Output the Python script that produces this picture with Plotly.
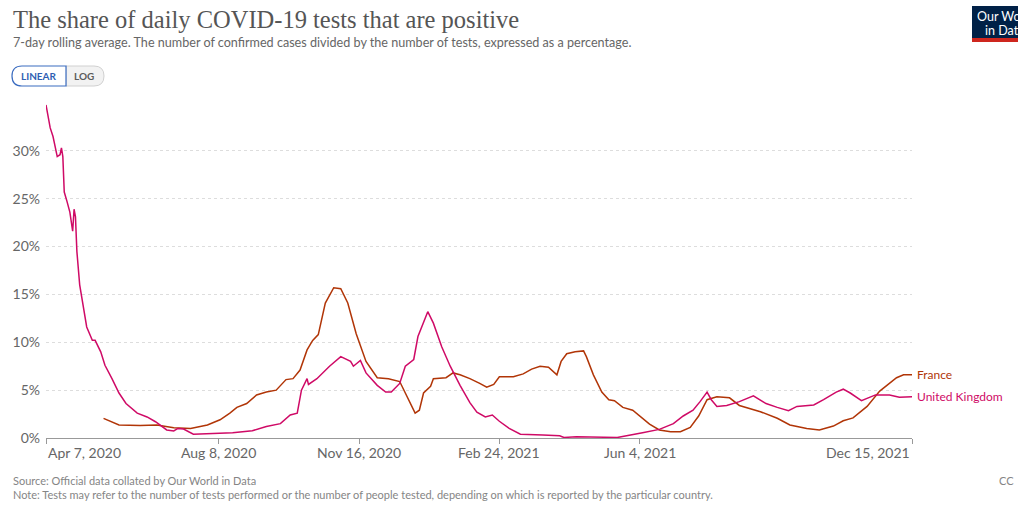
import plotly.graph_objects as go

# ---------------- data ----------------
uk_dates = ["2020-04-07", "2020-04-09", "2020-04-10", "2020-04-12", "2020-04-15", "2020-04-17", "2020-04-18",
            "2020-04-19", "2020-04-20", "2020-04-22", "2020-04-24", "2020-04-26", "2020-04-27", "2020-04-28",
            "2020-04-29", "2020-05-01", "2020-05-04", "2020-05-06", "2020-05-10", "2020-05-12", "2020-05-16",
            "2020-05-19", "2020-05-24", "2020-05-29", "2020-06-03", "2020-06-11", "2020-06-18", "2020-06-24",
            "2020-07-02", "2020-07-07", "2020-07-10", "2020-07-14", "2020-07-21", "2020-08-04", "2020-08-18",
            "2020-09-01", "2020-09-11", "2020-09-21", "2020-09-28", "2020-10-03", "2020-10-06", "2020-10-10",
            "2020-10-11", "2020-10-17", "2020-10-26", "2020-11-03", "2020-11-10", "2020-11-12", "2020-11-17",
            "2020-11-21", "2020-11-29", "2020-12-05", "2020-12-09", "2020-12-15", "2020-12-19", "2020-12-25",
            "2020-12-28", "2021-01-04", "2021-01-08", "2021-01-14", "2021-01-20", "2021-01-27", "2021-02-03",
            "2021-02-08", "2021-02-14", "2021-02-19", "2021-02-24", "2021-03-03", "2021-03-11", "2021-03-27",
            "2021-04-08", "2021-04-11", "2021-04-20", "2021-05-19", "2021-05-30", "2021-06-06", "2021-06-18",
            "2021-06-28", "2021-07-05", "2021-07-12", "2021-07-17", "2021-07-22", "2021-07-25", "2021-07-29",
            "2021-08-05", "2021-08-14", "2021-08-24", "2021-09-02", "2021-09-10", "2021-09-18", "2021-09-24",
            "2021-10-06", "2021-10-13", "2021-10-22", "2021-10-27", "2021-11-01", "2021-11-09", "2021-11-15",
            "2021-11-19", "2021-11-29", "2021-12-06", "2021-12-15"]
uk_values = [34.8, 33.4, 32.4, 31.5, 29.4, 29.6, 30.3,
             29.4, 25.7, 24.7, 23.6, 21.6, 23.9, 23.1,
             19.5, 16.0, 13.6, 11.6, 10.2, 10.2, 9.0,
             7.6, 6.2, 4.7, 3.6, 2.6, 2.2, 1.7,
             0.84, 0.73, 1.0, 0.94, 0.39, 0.49, 0.55,
             0.76, 1.2, 1.5, 2.4, 2.6, 5.0, 6.2,
             5.6, 6.2, 7.5, 8.5, 8.0, 7.5, 8.1,
             6.8, 5.5, 4.8, 4.8, 5.7, 7.5, 8.2,
             10.6, 13.2, 12.0, 9.5, 7.5, 5.5, 3.7,
             2.7, 2.2, 2.4, 1.75, 1.0, 0.39, 0.31,
             0.24, 0.05, 0.14, 0.05, 0.31, 0.55, 0.9,
             1.5, 2.3, 2.9, 3.8, 4.8, 4.0, 3.3,
             3.4, 3.8, 4.4, 3.6, 3.2, 2.85, 3.3,
             3.45, 4.0, 4.8, 5.1, 4.7, 3.9, 4.3,
             4.5, 4.5, 4.25, 4.3]

fr_dates = ["2020-05-18", "2020-05-24", "2020-05-29", "2020-06-13", "2020-06-25", "2020-07-07", "2020-07-19",
            "2020-07-31", "2020-08-09", "2020-08-16", "2020-08-21", "2020-08-28", "2020-09-04", "2020-09-11",
            "2020-09-18", "2020-09-25", "2020-09-30", "2020-10-05", "2020-10-10", "2020-10-14", "2020-10-18",
            "2020-10-23", "2020-10-29", "2020-11-03", "2020-11-08", "2020-11-14", "2020-11-21", "2020-11-29",
            "2020-12-07", "2020-12-15", "2020-12-21", "2020-12-26", "2020-12-29", "2021-01-01", "2021-01-06",
            "2021-01-08", "2021-01-17", "2021-01-22", "2021-01-27", "2021-02-03", "2021-02-10", "2021-02-15",
            "2021-02-20", "2021-02-24", "2021-03-06", "2021-03-13", "2021-03-19", "2021-03-25", "2021-03-31",
            "2021-04-06", "2021-04-09", "2021-04-13", "2021-04-19", "2021-04-25", "2021-04-27", "2021-05-02",
            "2021-05-08", "2021-05-13", "2021-05-17", "2021-05-23", "2021-05-30", "2021-06-05", "2021-06-11",
            "2021-06-18", "2021-06-26", "2021-07-03", "2021-07-10", "2021-07-16", "2021-07-22", "2021-07-29",
            "2021-08-07", "2021-08-14", "2021-08-29", "2021-09-10", "2021-09-19", "2021-10-01", "2021-10-10",
            "2021-10-20", "2021-10-27", "2021-11-03", "2021-11-13", "2021-11-22", "2021-12-04", "2021-12-09",
            "2021-12-15"]
fr_values = [2.05, 1.7, 1.36, 1.3, 1.36, 1.08, 1.0,
             1.36, 1.9, 2.6, 3.2, 3.6, 4.5, 4.8,
             5.0, 6.1, 6.2, 7.1, 9.2, 10.2, 10.8,
             14.1, 15.7, 15.6, 14.1, 10.9, 8.0, 6.3,
             6.2, 5.9, 4.0, 2.6, 2.9, 4.7, 5.4,
             6.2, 6.3, 6.8, 6.6, 6.2, 5.7, 5.3,
             5.6, 6.4, 6.4, 6.7, 7.2, 7.5, 7.4,
             6.6, 8.0, 8.8, 9.0, 9.1, 8.5, 6.6,
             4.8, 4.0, 3.9, 3.2, 2.9, 2.2, 1.46,
             0.84, 0.66, 0.66, 1.1, 2.3, 4.0, 4.3,
             4.2, 3.4, 2.75, 2.06, 1.36, 1.0, 0.84,
             1.25, 1.8, 2.1, 3.3, 4.9, 6.3, 6.6,
             6.6]

x_tick_dates = ["2020-04-07", "2020-08-08", "2020-11-16", "2021-02-24", "2021-06-04", "2021-12-15"]
x_tick_labels = ["Apr 7, 2020", "Aug 8, 2020", "Nov 16, 2020", "Feb 24, 2021", "Jun 4, 2021", "Dec 15, 2021"]
y_tick_vals = [0, 5, 10, 15, 20, 25, 30]
y_tick_labels = ["0%", "5%", "10%", "15%", "20%", "25%", "30%"]

series_names = ["France", "United Kingdom"]
series_colors = ["#b13507", "#cf0a66"]

# ---------------- layout geometry (pixels) ----------------
W, H = 1018, 511
PLOT_X0, PLOT_X1, PLOT_Y0, PLOT_Y1 = 46, 912, 103, 438
L, R, T, B = PLOT_X0, W - PLOT_X1, PLOT_Y0, H - PLOT_Y1
PW, PH = W - L - R, H - T - B
FONT = "Lato"


def px(x):
    return (x - L) / PW


def py(y):
    return (H - B - y) / PH


fig = go.Figure()
fig.add_trace(go.Scatter(x=fr_dates, y=fr_values, mode="lines", name=series_names[0],
                         line=dict(color=series_colors[0], width=1.5), hoverinfo="skip"))
fig.add_trace(go.Scatter(x=uk_dates, y=uk_values, mode="lines", name=series_names[1],
                         line=dict(color=series_colors[1], width=1.5), hoverinfo="skip"))

annotations = []
# line end labels
for name, dates, vals, col in [(series_names[0], fr_dates, fr_values, series_colors[0]),
                               (series_names[1], uk_dates, uk_values, series_colors[1])]:
    annotations.append(dict(x=dates[-1], y=vals[-1], xref="x", yref="y", text=name, showarrow=False,
                            xanchor="left", yanchor="middle", xshift=3,
                            font=dict(family=FONT, size=12, color=col)))

# x tick labels (first left aligned, last right aligned)
for i, (d, lab) in enumerate(zip(x_tick_dates, x_tick_labels)):
    anchor = "left" if i == 0 else ("right" if i == len(x_tick_dates) - 1 else "center")
    annotations.append(dict(x=d, y=py(453), xref="x", yref="paper", text=lab, showarrow=False,
                            xanchor=anchor, yanchor="middle",
                            font=dict(family=FONT, size=14, color="#666666")))

# title, subtitle
annotations.append(dict(x=px(11), y=py(19), xref="paper", yref="paper", showarrow=False,
                        text="The share of daily COVID-19 tests that are positive",
                        xanchor="left", yanchor="middle",
                        font=dict(family="Liberation Serif", size=24.5, color="#555555")))
annotations.append(dict(x=px(11), y=py(42), xref="paper", yref="paper", showarrow=False,
                        text="7-day rolling average. The number of confirmed cases divided by the number of tests, expressed as a percentage.",
                        xanchor="left", yanchor="middle",
                        font=dict(family=FONT, size=12.6, color="#666666")))

# buttons text
annotations.append(dict(x=px(39), y=py(76), xref="paper", yref="paper", showarrow=False, text="<b>LINEAR</b>",
                        xanchor="center", yanchor="middle", font=dict(family=FONT, size=10, color="#2f5fb3")))
annotations.append(dict(x=px(84), y=py(76), xref="paper", yref="paper", showarrow=False, text="<b>LOG</b>",
                        xanchor="center", yanchor="middle", font=dict(family=FONT, size=10, color="#5b5b5b")))

# logo text
annotations.append(dict(x=px(975), y=py(16), xref="paper", yref="paper", showarrow=False, text="Our World",
                        xanchor="left", yanchor="middle", font=dict(family=FONT, size=12.5, color="white")))
annotations.append(dict(x=px(983), y=py(30), xref="paper", yref="paper", showarrow=False, text="in Data",
                        xanchor="left", yanchor="middle", font=dict(family=FONT, size=12.5, color="white")))

# footer
annotations.append(dict(x=px(11), y=py(481), xref="paper", yref="paper", showarrow=False,
                        text="Source: Official data collated by Our World in Data",
                        xanchor="left", yanchor="middle", font=dict(family=FONT, size=11, color="#858585")))
annotations.append(dict(x=px(11), y=py(494), xref="paper", yref="paper", showarrow=False,
                        text="Note: Tests may refer to the number of tests performed or the number of people tested, depending on which is reported by the particular country.",
                        xanchor="left", yanchor="middle", font=dict(family=FONT, size=11, color="#858585")))
annotations.append(dict(x=px(1016), y=py(481), xref="paper", yref="paper", showarrow=False, text="CC",
                        xanchor="right", yanchor="middle", font=dict(family=FONT, size=11, color="#858585")))


def pill(x0, x1, y0, y1, left_round, right_round):
    r = (y1 - y0) / 2
    parts = []
    parts.append(f"M {px(x0 + r) if left_round else px(x0)} {py(y0)}")
    if right_round:
        parts.append(f"L {px(x1 - r)} {py(y0)}")
        parts.append(f"Q {px(x1)} {py(y0)} {px(x1)} {py(y0 + r)}")
        parts.append(f"Q {px(x1)} {py(y1)} {px(x1 - r)} {py(y1)}")
    else:
        parts.append(f"L {px(x1)} {py(y0)}")
        parts.append(f"L {px(x1)} {py(y1)}")
    if left_round:
        parts.append(f"L {px(x0 + r)} {py(y1)}")
        parts.append(f"Q {px(x0)} {py(y1)} {px(x0)} {py(y0 + r)}")
        parts.append(f"Q {px(x0)} {py(y0)} {px(x0 + r)} {py(y0)}")
    else:
        parts.append(f"L {px(x0)} {py(y1)}")
    parts.append("Z")
    return " ".join(parts)


shapes = [
    dict(type="path", xref="paper", yref="paper", path=pill(66, 104, 66, 86, False, True),
         fillcolor="#f2f2f2", line=dict(color="#d0d0d0", width=1), layer="above"),
    dict(type="path", xref="paper", yref="paper", path=pill(12, 66, 66, 86, True, False),
         fillcolor="white", line=dict(color="#3b6cc0", width=1.2), layer="above"),
    dict(type="rect", xref="paper", yref="paper", x0=px(972), x1=px(1040), y0=py(38), y1=py(6),
         fillcolor="#002147", line=dict(width=0), layer="above"),
    dict(type="rect", xref="paper", yref="paper", x0=px(972), x1=px(1040), y0=py(42), y1=py(38),
         fillcolor="#ce261e", line=dict(width=0), layer="above"),
]

fig.update_layout(
    width=W, height=H,
    margin=dict(l=L, r=R, t=T, b=B, autoexpand=False),
    paper_bgcolor="white", plot_bgcolor="white",
    showlegend=False,
    hovermode=False,
    font=dict(family=FONT, color="#666666"),
    annotations=annotations,
    shapes=shapes,
    xaxis=dict(type="date", range=[x_tick_dates[0], x_tick_dates[-1]],
               tickvals=x_tick_dates, showticklabels=False, ticks="outside", ticklen=5,
               tickcolor="#999999", showline=True, linecolor="#999999", linewidth=1,
               showgrid=False, zeroline=False, fixedrange=True),
    yaxis=dict(range=[0, 35], tickvals=y_tick_vals, ticktext=y_tick_labels,
               tickfont=dict(family=FONT, size=14, color="#666666"),
               showgrid=True, gridcolor="#dddddd", griddash="3px,3px", gridwidth=1,
               zeroline=False, showline=False, ticks="", ticklabelstandoff=5, fixedrange=True),
)

# remove the default page margin so the figure fills the browser window exactly
fig.write_html("out.html",
               config={"displayModeBar": False, "staticPlot": True},
               post_script="document.body.style.margin='0';document.body.style.overflow='hidden';")
